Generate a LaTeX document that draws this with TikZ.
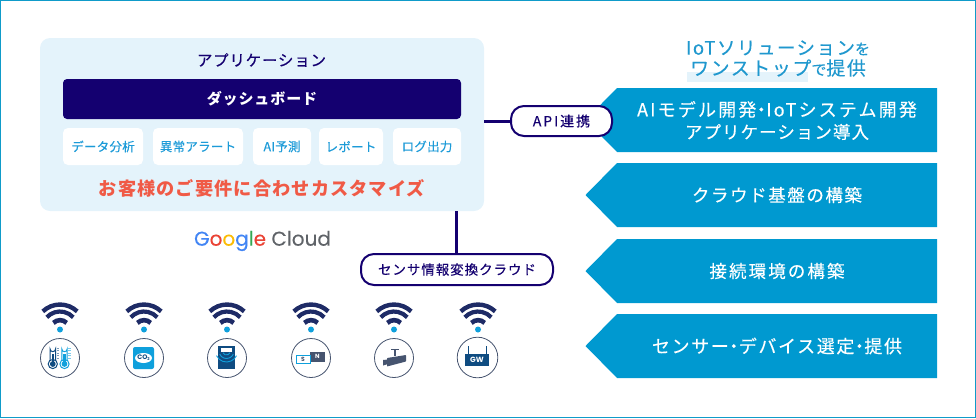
\documentclass[tikz,border=0pt]{standalone}
\usepackage{fontspec}
\setmainfont{Noto Sans CJK JP}
\newfontfamily\gfont{Poppins}
\newcommand{\jpf}[2]{\fontsize{#1}{#1}\selectfont\addfontfeature{LetterSpace=#2,FakeBold=0.25}}
\newcommand{\jpb}[2]{\fontsize{#1}{#1}\selectfont\bfseries\addfontfeature{LetterSpace=#2}}
\newcommand{\mdot}{\kern-4pt・\kern-4pt}
\definecolor{frameblue}{HTML}{0F9BC9}
\definecolor{panelblue}{HTML}{E4F3FB}
\definecolor{navy}{HTML}{140070}
\definecolor{arrowblue}{HTML}{0099D0}
\definecolor{txtblue}{HTML}{1C9BD8}
\definecolor{ctablue}{HTML}{2098CE}
\definecolor{redtxt}{HTML}{F05A46}
\definecolor{wifinavy}{HTML}{1E2B66}
\definecolor{dotblue}{HTML}{0FA0DC}
\definecolor{slate}{HTML}{46546F}
\definecolor{deepblue}{HTML}{0F4C81}
\tikzset{
  x=1pt,y=-1pt,
  panel/.style={fill=panelblue,rounded corners=10pt,draw=none},
  darkbar/.style={fill=navy,rounded corners=4pt,draw=none},
  chipbox/.style={fill=white,rounded corners=5pt,draw=none},
  chiptext/.style={lbl,text=txtblue,font={\jpf{12.5}{2}}},
  pill/.style={draw=navy,line width=2pt,fill=white,rounded corners=13pt,text=navy},
  link/.style={navy,line width=3pt},
  banner/.style={fill=arrowblue,draw=none},
  bannertext/.style={lbl,text=white,align=center},
  cta/.style={lbl,text=ctablue},
  iconring/.style={draw=slate,line width=.8pt,fill=white},
  lbl/.style={inner sep=0pt,outer sep=0pt}
}
\newcommand{\wifi}[1]{%
  \begin{scope}[shift={(#1,329.5)}]
    \draw[wifinavy,line width=4.4pt] (-17.2,-18.1) arc[start angle=-133.5,end angle=-46.5,radius=25];
    \draw[wifinavy,line width=4.2pt] (-13.2,-12.2) arc[start angle=-137.3,end angle=-42.7,radius=18];
    \draw[wifinavy,line width=4.6pt] (-6.6,-6.6) arc[start angle=-135,end angle=-45,radius=9.4];
    \fill[dotblue] (0,0) circle[radius=3];
  \end{scope}}
\newcommand{\ring}[2]{\draw[iconring] (#1,358) circle[radius=#2];}
\newcommand{\thermo}[2]{%
  \draw[#2,line width=1pt] (#1-2.7,362) -- (#1-2.7,349) arc[start angle=180,end angle=0,radius=2.7] -- (#1+2.7,362);
  \draw[#2,line width=1pt,fill=white] (#1,364) circle[radius=4.6];
  \fill[#2] (#1,364) circle[radius=2.9];
  \fill[#2] (#1-1.3,354) rectangle (#1+1.3,364);
  \foreach \yy in {348,350.5,353,355.5,358}{\draw[#2!55,line width=.5pt] (#1+3.8,\yy) -- (#1+6.5,\yy);}}
\newcommand{\wave}[1]{\draw[dotblue,line width=.9pt] (226.5,351) ++(155:#1) arc[start angle=155,end angle=25,radius=#1];}
\begin{document}
\begin{tikzpicture}
\useasboundingbox (0,0) rectangle (976,418);
\draw[frameblue,line width=1.6pt] (.5,.5) rectangle (975.5,417.5);

% panel
\path[panel] (40,38) rectangle (484,211);
\coordinate (panelR) at (484,121);
\coordinate (panelB) at (456,211);
\node[lbl,text=navy,font={\jpf{15.5}{5}}] (apptitle) at (261.5,60) {アプリケーション};
\path[darkbar] (63,79) rectangle (461,119);
\node[lbl,text=white,font={\jpb{15}{6}}] (dashb) at (262,99) {ダッシュボード};
\path[chipbox] (63,128) rectangle (143,165);
\path[chipbox] (153,128) rectangle (243,165);
\path[chipbox] (253,128) rectangle (311,165);
\path[chipbox] (319,128) rectangle (383,165);
\path[chipbox] (393,128) rectangle (461,165);
\node[chiptext] (c1) at (103,146.5) {データ分析};
\node[chiptext] (c2) at (198,146.5) {異常アラート};
\node[chiptext] (c3) at (282,146.5) {AI予測};
\node[chiptext] (c4) at (351,146.5) {レポート};
\node[chiptext] (c5) at (427,146.5) {ログ出力};
\node[lbl,text=redtxt,font={\jpb{18.2}{6}}] (custom) at (262,188.5) {お客様のご要件に合わせカスタマイズ};

% Google Cloud
\node[lbl,font={\gfont\fontsize{20}{20}\selectfont\addfontfeature{FakeBold=0.2}}] (gc) at (262.5,241) {\textcolor[HTML]{4285F4}{G}\textcolor[HTML]{EA4335}{o}\textcolor[HTML]{FBBC05}{o}\textcolor[HTML]{4285F4}{g}\textcolor[HTML]{34A853}{l}\textcolor[HTML]{EA4335}{e} \textcolor[HTML]{5F6368}{Cloud}};

% banners
\path[banner] (937,88) -- (617,88) -- (585.5,120) -- (617,152) -- (937,152) -- cycle;
\path[banner] (937,163) -- (617,163) -- (585.5,195) -- (617,227) -- (937,227) -- cycle;
\path[banner] (937,239) -- (617,239) -- (585.5,271) -- (617,303) -- (937,303) -- cycle;
\path[banner] (937,314) -- (617,314) -- (585.5,346) -- (617,378) -- (937,378) -- cycle;
\node[bannertext] (b1) at (777,120.5) {{\jpf{18}{12}AIモデル開発\mdot IoTシステム開発}\\[5pt]{\jpf{17.5}{6}アプリケーション導入}};
\node[bannertext,font={\jpf{17.5}{9}}] (b2) at (777,195) {クラウド基盤の構築};
\node[bannertext,font={\jpf{17.5}{12}}] (b3) at (777,271) {接続環境の構築};
\node[bannertext,font={\jpf{18}{9}}] (b4) at (777,346) {センサー\mdot デバイス選定\mdot 提供};

% heading
\path[fill=panelblue] (687,72) rectangle (808,82);
\node[cta,font={\jpf{18.5}{8}}] (h1) at (778,48) {IoTソリューション{\fontsize{15}{15}\selectfont を}};
\node[cta,font={\jpf{19}{8}}] (h2) at (778,68) {ワンストップ{\fontsize{15}{15}\selectfont で}提供};

% connectors and pills
\node[pill,lbl,draw=navy,minimum width=101pt,minimum height=30pt,font={\jpf{14}{14}}] (api) at (561.5,121) {API連携};
\node[pill,lbl,draw=navy,minimum width=192pt,minimum height=31pt,font={\jpf{13.5}{7}}] (sens) at (457,269.5) {センサ情報変換クラウド};
\draw[link] (panelR) -- (api.west);
\draw[link] (panelB) -- (panelB |- sens.north);

% wifi and rings
\wifi{60}\wifi{144}\wifi{227}\wifi{311}\wifi{394}\wifi{478}
\ring{60}{19.5}\ring{144}{19.5}\ring{227}{19.5}\ring{311}{19.5}\ring{394}{19.5}
\draw[iconring] (477.5,357.5) circle[radius=20.3];

% thermometers
\thermo{52.8}{deepblue}
\thermo{64.5}{dotblue}

% CO2
\path[fill=dotblue,rounded corners=2pt] (133,347) rectangle (154,369);
\path[fill=white] (143.5,358) ellipse[x radius=8.5,y radius=5];
\node[lbl,text=deepblue,font={\gfont\bfseries\fontsize{6.5}{6.5}\selectfont}] (co2) at (143.5,358) {CO\raisebox{-1pt}{\fontsize{4}{4}\selectfont 2}};

% level sensor
\path[fill=deepblue] (218,346) rectangle (235,369);
\path[fill=white] (221,348) rectangle (232,351.5);
\wave{4}\wave{7.5}\wave{11}

% magnet
\path[fill=slate] (310,352) rectangle (325,361.5);
\draw[dotblue,line width=.8pt,fill=white] (296,355.5) rectangle (310,363.5);
\node[lbl,text=white,font={\gfont\bfseries\fontsize{6}{6}\selectfont}] (mN) at (317.5,356.8) {N};
\node[lbl,text=slate,font={\gfont\bfseries\fontsize{6}{6}\selectfont}] (mS) at (303,359.6) {S};

% camera
\path[fill=slate] (391,348.5) rectangle (399,350);
\path[fill=slate] (394,349) rectangle (396,356);
\path[fill=slate,rounded corners=.6pt] (387,358) -- (406,355) -- (406,361.5) -- (387,366.5) -- cycle;
\path[fill=slate] (383,360) -- (388,359.5) -- (388,364) -- (383,365.5) -- cycle;

% gateway
\draw[deepblue,line width=1pt] (468,354) -- (468,346);
\draw[deepblue,line width=1pt] (486,354) -- (486,346);
\path[fill=deepblue] (465,353.5) rectangle (488.5,366);
\node[lbl,text=white,font={\gfont\bfseries\fontsize{7.5}{7.5}\selectfont}] (gw) at (477,360) {GW};
\end{tikzpicture}
\end{document}
